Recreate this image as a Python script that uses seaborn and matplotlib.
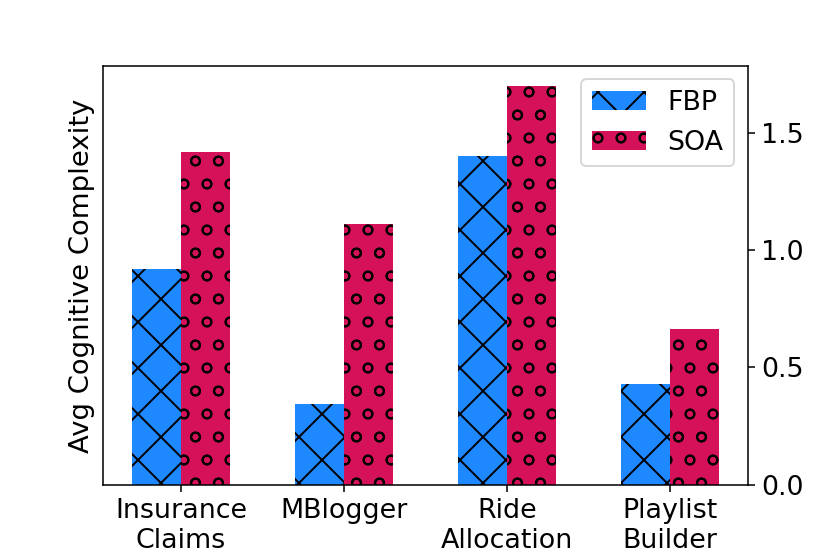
import pandas as pd
import matplotlib
matplotlib.use("Agg")
import matplotlib.pyplot as plt
from matplotlib.ticker import MultipleLocator
import seaborn as sns

# values
apps = ["Insurance\nClaims", "MBlogger", "Ride\nAllocation", "Playlist\nBuilder"]
fbp = [0.92, 0.345, 1.40, 0.43]
soa = [1.42, 1.11, 1.70, 0.665]
methods = ["FBP", "SOA"]
colors = ["#1E88FF", "#D41159"]
hatches = ["x", "o"]

df = pd.DataFrame({
    "app": apps * 2,
    "value": fbp + soa,
    "method": ["FBP"] * len(apps) + ["SOA"] * len(apps),
})

plt.rcParams['font.size'] = 14
plt.rcParams['hatch.linewidth'] = 1.0
plt.rcParams['hatch.color'] = 'black'

dpi = 138.4
fig, ax = plt.subplots(figsize=(830 / dpi, 554 / dpi), dpi=dpi)
fig.subplots_adjust(left=0.124, right=0.901, top=0.881, bottom=0.125)

sns.barplot(data=df, x="app", y="value", hue="method", hue_order=methods,
            palette=colors, saturation=1, width=0.6, ax=ax, legend=False)

for cont, h in zip(ax.containers, hatches):
    for p in cont:
        p.set_hatch(h)
        p.set_edgecolor("black")
        p.set_linewidth(0)

ax.set_xlim(-0.48, 3.48)
ax.yaxis.tick_right()
ax.yaxis.set_major_locator(MultipleLocator(0.5))
ax.set_xlabel("")
ax.set_ylabel("Avg Cognitive Complexity", fontsize=14.3)
ax.tick_params(labelsize=14)
ax.legend(ax.containers, methods, loc="upper right", fontsize=14)

fig.savefig("out.png", dpi=dpi)
